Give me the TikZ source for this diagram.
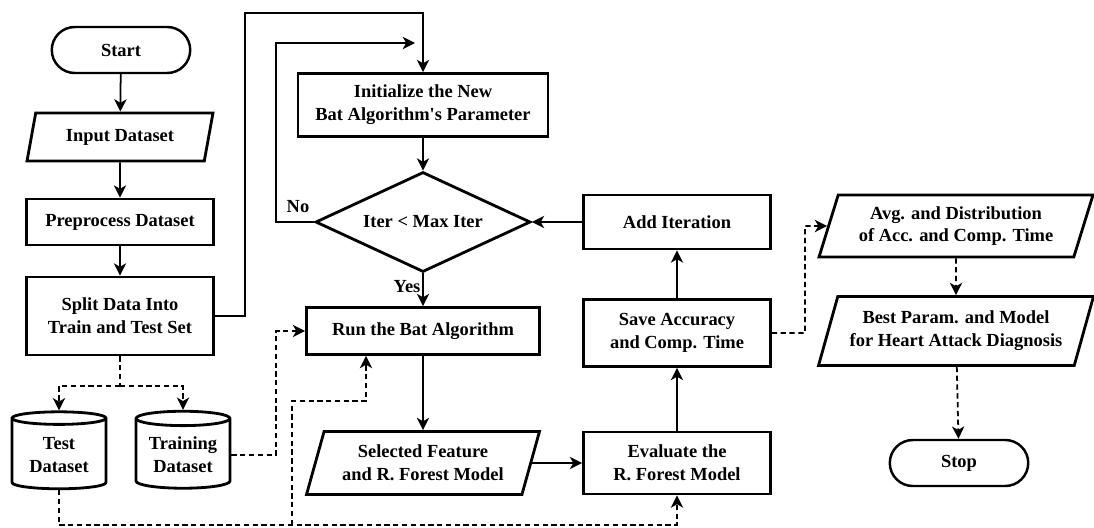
\documentclass[tikz,border=0pt]{standalone}
\usepackage{fontspec}
\setmainfont{Liberation Serif}
\usetikzlibrary{shapes.geometric,shapes.misc,arrows.meta}
\begin{document}
\begin{tikzpicture}[x=0.02cm,y=-0.02cm,
  every node/.style={font=\bfseries\fontsize{10.5}{13}\selectfont, align=center, inner sep=1pt},
  proc/.style={draw, line width=1.6pt, rectangle, minimum width=3.74cm},
  term/.style={draw, line width=1.4pt, rounded rectangle, minimum width=2.84cm, minimum height=0.92cm},
  io/.style={draw, line width=1.6pt, trapezium, trapezium left angle=66, trapezium right angle=114, trapezium stretches body},
  db/.style={draw, line width=1.6pt, cylinder, shape border rotate=90, aspect=0.2, minimum width=1.88cm, minimum height=1.54cm},
  dec/.style={draw, line width=1.6pt, diamond, aspect=2.15, inner sep=0pt, minimum width=4.3cm, minimum height=2cm},
  arr/.style={line width=1pt, -{Stealth[length=7pt,width=7pt,inset=2pt]}},
  darr/.style={arr, dash pattern=on 3pt off 2pt},
  dline/.style={line width=1pt, dash pattern=on 3pt off 2pt}
]
\useasboundingbox (0,0) rectangle (1094,527);

\node[term] (start) at (121,50) {Start};
\node[io, minimum width=3.72cm, minimum height=0.96cm] (input) at (120,137) {Input Dataset};
\node[proc, minimum height=0.92cm] (prep) at (120,222) {Preprocess Dataset};
\node[proc, minimum height=1.56cm] (split) at (120,316) {Split Data Into\\Train and Test Set};
\node[db] (test) at (59,455) {Test\\Dataset};
\node[db] (train) at (183,455) {Training\\Dataset};

\node[proc, minimum width=5cm, minimum height=1.26cm] (init) at (423,105) {Initialize the New\\Bat Algorithm\textquotesingle s Parameter};
\node[dec] (dia) at (423,222) {Iter < Max Iter};
\node[proc, minimum width=4.66cm, minimum height=0.94cm] (run) at (423,331) {Run the Bat Algorithm};
\node[io, minimum width=4.66cm, minimum height=1.26cm] (sel) at (423,463) {Selected Feature\\and R. Forest Model};

\node[proc, minimum height=1.24cm] (eval) at (677,463) {Evaluate the\\R. Forest Model};
\node[proc, minimum height=1.34cm] (save) at (677,333) {Save Accuracy\\and Comp. Time};
\node[proc, minimum height=1.08cm] (add) at (677,222) {Add Iteration};

\node[io, minimum width=5.48cm, minimum height=1.24cm] (avg) at (956,226) {Avg. and Distribution\\of Acc. and Comp. Time};
\node[io, minimum width=5.5cm, minimum height=1.38cm] (best) at (956,331) {Best Param. and Model\\for Heart Attack Diagnosis};
\node[term] (stop) at (959,463) {Stop};

\coordinate (c1) at (245,13);
\coordinate (c2) at (276,43);
\coordinate (c3) at (415,43);
\coordinate (c4) at (120,386);
\coordinate (c5) at (276,331);
\coordinate (c6) at (292,525);
\coordinate (c7) at (366,401);
\coordinate (c8) at (805,226);

\draw[arr] (start) -- (input);
\draw[arr] (input) -- (prep);
\draw[arr] (prep) -- (split);
\draw[arr] (split.east) -| (c1) -| (init.north);
\draw[arr] (init) -- (dia);
\draw[arr] (dia.west) -| (c2) -- (c3);
\node at (298,207) {No};
\draw[arr] (dia.south) -- node[left, pos=0.4] {Yes} (run.north);
\draw[arr] (run) -- (sel);
\draw[arr] (sel.east) -- (eval.west);
\draw[arr] (eval) -- (save);
\draw[arr] (save) -- (add);
\draw[arr] (add.west) -- (dia.east);

\draw[dline] (split.south) -- (c4);
\draw[darr] (c4) -| (test.north);
\draw[darr] (c4) -| (train.north);
\draw[darr] (train.east) -| (c5) -- (run.west);
\draw[darr] (test.south) |- (c6) -| (eval.south);
\draw[darr] (c6) |- (c7) -- (c7 |- run.south);
\draw[darr] (save.east) -| (c8) -- (avg.west);
\draw[darr] (avg) -- (best);
\draw[darr] (best) -- (stop);
\end{tikzpicture}
\end{document}
